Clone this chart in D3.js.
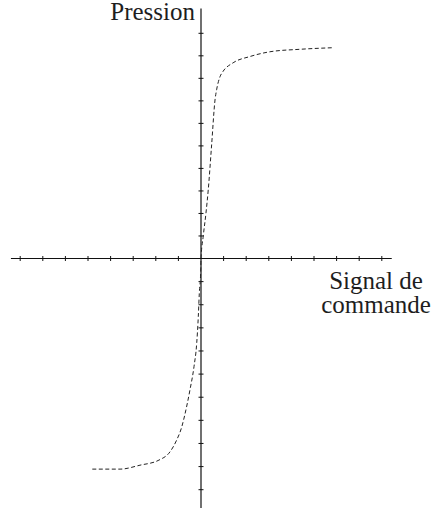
<!DOCTYPE html>
<html>
<head>
<meta charset="utf-8">
<script src="https://cdn.jsdelivr.net/npm/d3@7/dist/d3.min.js"></script>
<style>
  html, body { margin: 0; padding: 0; background: #fff; }
  svg { display: block; }
  text { font-family: "Liberation Serif", "DejaVu Serif", serif; fill: #1e1e1e; }
</style>
</head>
<body>
<svg id="chart" width="434" height="508"></svg>
<script>
// Tick positions along each axis (unlabelled graduations)
const xTicks = [-8, -7, -6, -5, -4, -3, -2, -1, 1, 2, 3, 4, 5, 6, 7, 8];
const yTicks = [-10, -9, -8, -7, -6, -5, -4, -3, -2, -1, 1, 2, 3, 4, 5, 6, 7, 8, 9, 10];

// Characteristic curve: pressure versus command signal
const signal = [-4.81, -3.58, -2.70, -1.86, -1.37, -1.08, -0.85, -0.75, -0.49, -0.31, -0.19, -0.12, -0.075, -0.01, 0,
                0.10, 0.22, 0.32, 0.47, 0.62, 0.69, 0.84, 0.97, 1.42, 2.17, 3.05, 4.38, 5.84];
const pression = [-9.11, -9.11, -8.94, -8.72, -8.36, -7.86, -7.28, -6.9, -5.69, -4.68, -3.67, -2.52, -1.51, -0.5, 0,
                  1.0, 2.02, 3.04, 5.04, 7.04, 7.49, 8.07, 8.30, 8.69, 8.97, 9.18, 9.29, 9.36];

const axisLabelX = ["Signal de", "commande"];
const axisLabelY = "Pression";

const svg = d3.select("#chart");

const x = d3.scaleLinear().domain([-8, 8]).range([20.2, 381.8]);
const y = d3.scaleLinear().domain([-10, 0, 10]).range([489.7, 258.5, 33.3]);

const axes = svg.append("g").attr("stroke", "#111").attr("stroke-width", 1.2);

// Horizontal axis
axes.append("line")
  .attr("x1", x(-8.41)).attr("x2", x(8.44))
  .attr("y1", y(0)).attr("y2", y(0));
axes.selectAll(".xt").data(xTicks).join("line")
  .attr("class", "xt")
  .attr("x1", d => x(d)).attr("x2", d => x(d))
  .attr("y1", y(0) - 2.5).attr("y2", y(0) + 2.5)
  .attr("stroke-width", 1);

// Vertical axis
axes.append("line")
  .attr("x1", x(0)).attr("x2", x(0))
  .attr("y1", y(11.1)).attr("y2", y(-10.8));
axes.selectAll(".yt").data(yTicks).join("line")
  .attr("class", "yt")
  .attr("x1", x(0) - 2.5).attr("x2", x(0) + 2.5)
  .attr("y1", d => y(d)).attr("y2", d => y(d))
  .attr("stroke-width", 1);

// Dashed response curve
const pts = signal.map((s, i) => [s, pression[i]]);
svg.append("path")
  .datum(pts)
  .attr("fill", "none")
  .attr("stroke", "#222")
  .attr("stroke-width", 1)
  .attr("stroke-dasharray", "4,2.5")
  .attr("d", d3.line().x(d => x(d[0])).y(d => y(d[1])).curve(d3.curveMonotoneX));

// Axis titles
svg.append("text")
  .attr("x", 195).attr("y", 20)
  .attr("text-anchor", "end")
  .attr("font-size", 25)
  .text(axisLabelY);

svg.selectAll(".xl").data(axisLabelX).join("text")
  .attr("class", "xl")
  .attr("x", 376)
  .attr("y", (d, i) => 289 + i * 24)
  .attr("text-anchor", "middle")
  .attr("font-size", 25)
  .text(d => d);
</script>
</body>
</html>
